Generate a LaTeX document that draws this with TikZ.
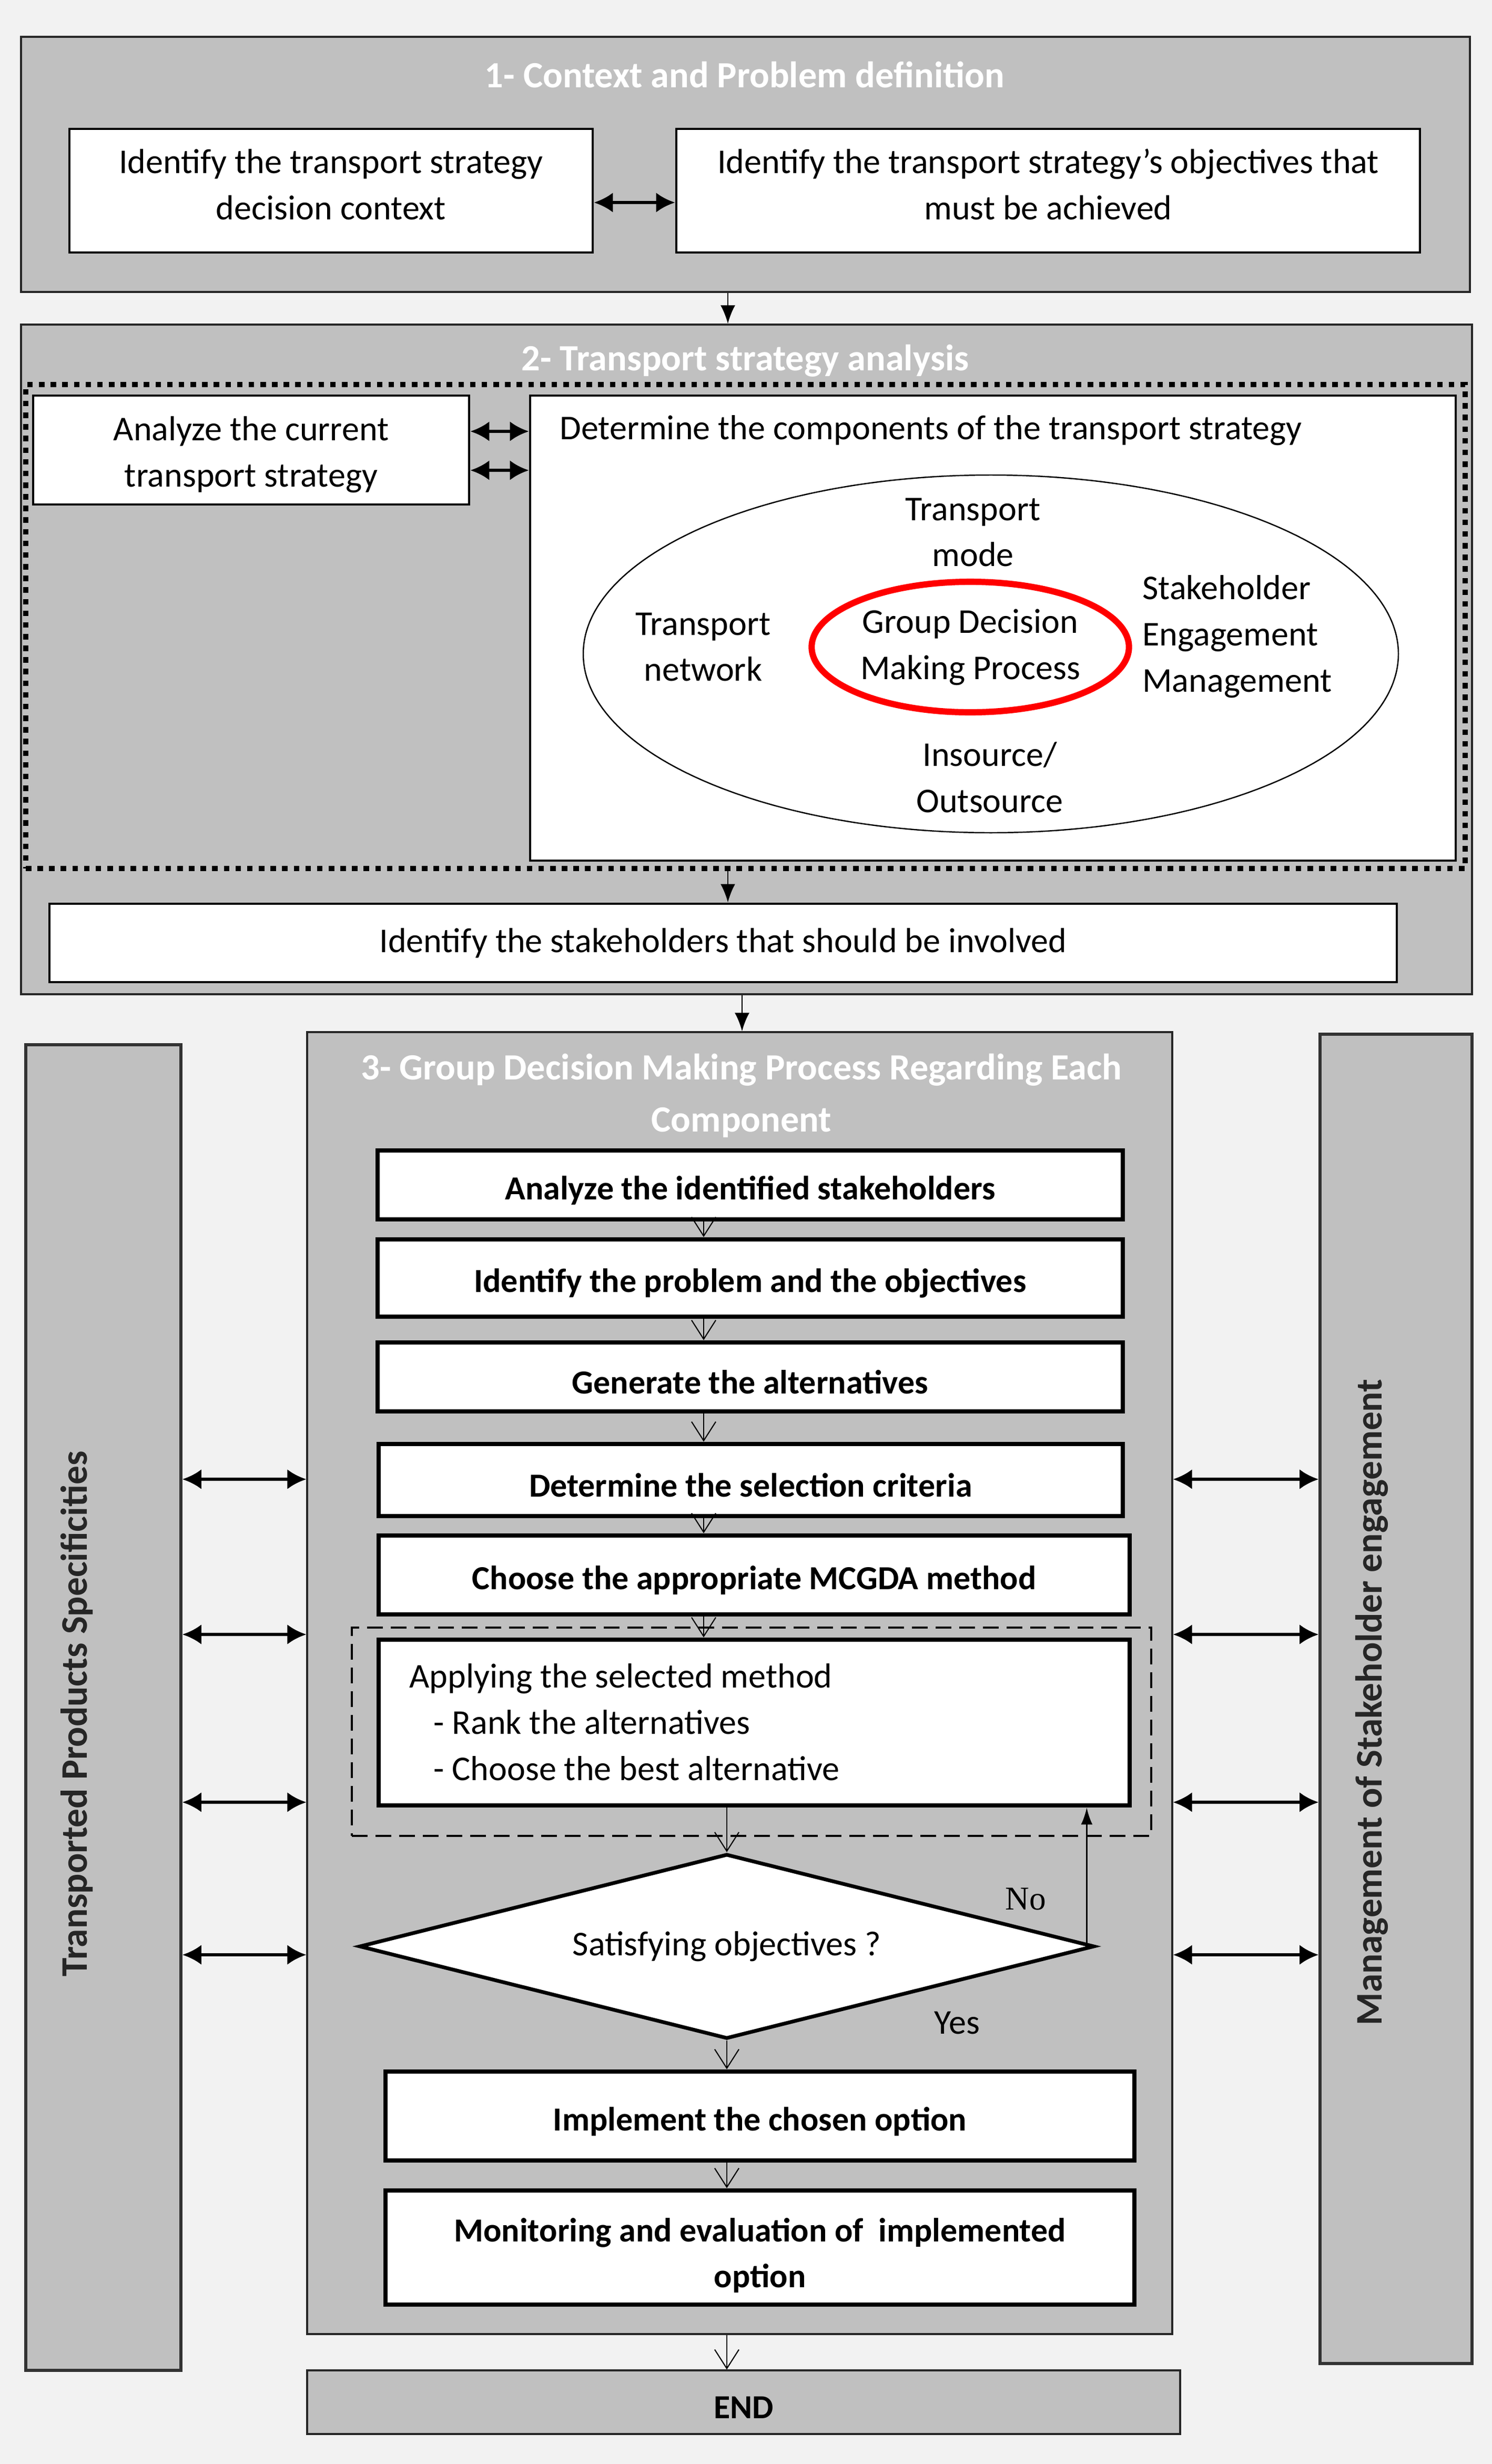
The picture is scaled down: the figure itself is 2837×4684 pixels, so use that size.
\documentclass[tikz,border=0pt]{standalone}
\usepackage{fontspec}
\setmainfont{Carlito}
\newfontfamily\timesfont{Liberation Serif}
\usetikzlibrary{arrows.meta,fit,shapes.geometric}

\definecolor{pagegray}{HTML}{F2F2F2}
\definecolor{panelgray}{HTML}{C0C0C0}

\begin{document}
\begin{tikzpicture}[x=0.01cm,y=-0.01cm,
        panel/.style={draw=black!85,line width=0.9pt,fill=panelgray,inner sep=0pt},
        sidebar/.style={draw=black!80,line width=1.6pt,fill=panelgray,inner sep=0pt},
        sidetext/.style={rotate=90,text=black!85,font=\fontsize{20.3}{24}\selectfont\bfseries},
        title/.style={text=white,align=center,font=\fontsize{20}{28}\selectfont\bfseries},
        txt/.style={align=center,font=\fontsize{18.8}{25}\selectfont},
        boldtxt/.style={align=center,yshift=-0.1cm,font=\fontsize{18.2}{25}\selectfont\bfseries},
        lightbox/.style={draw,line width=1.4pt,fill=white,inner sep=0pt},
        heavybox/.style={lightbox,line width=2.5pt},
        flow/.style={-{Straight Barb[length=3.6mm,width=4.6mm]},line width=0.6pt},
        link/.style={{Latex[length=3.6mm,width=3.8mm]}-{Latex[length=3.6mm,width=3.8mm]},line width=1.6pt},
        drop/.style={-{Latex[length=3.5mm,width=2.8mm]},line width=0.8pt}]

        % Page background
        \fill[pagegray] (0,0) rectangle (2837,4684);

        % 1- Context and problem definition
        \node[panel,fit={(40,70) (2795,555)}] (sec1) {};
        \node[title] (t1) at (1416,142) {1- Context and Problem definition};
        \node[lightbox,fit={(132,245) (1127,480)},label={[txt,yshift=0.12cm]center:{Identify the transport strategy\\decision context}}] (ctx) {};
        \node[lightbox,fit={(1286,245) (2700,480)},label={[txt,yshift=0.12cm]center:{Identify the transport strategy’s objectives that\\must be achieved}}] (obj) {};
        \draw[link] (ctx.east |- 0,385) -- (obj.west |- 0,385);

        % 2- Transport strategy analysis
        \node[panel,fit={(40,617) (2799,1890)}] (sec2) {};
        \draw[drop] (sec1.south -| 1384,0) -- (sec2.north -| 1384,0);
        \node[title] (t2) at (1417,686) {2- Transport strategy analysis};
        \node[draw,line width=2.8pt,dash pattern=on 3pt off 3.3pt,inner sep=0pt,fit={(49,731) (2786,1651)}] (dotframe) {};
        \node[lightbox,fit={(63,752) (892,959)},label={[txt,yshift=-0.09cm]center:{Analyze the current\\transport strategy}}] (cur) {};
        \node[lightbox,fit={(1008,752) (2768,1636)}] (comp) {};
        \node[txt,anchor=west] (compt) at (1052,818) {Determine the components of the transport strategy};
        \draw[link] (cur.east |- 0,820) -- (comp.west |- 0,820);
        \draw[link] (cur.east |- 0,894) -- (comp.west |- 0,894);

        % Components of the strategy
        \draw[line width=0.7pt] (1884,1243) ellipse [x radius=775, y radius=340];
        \node[txt,ellipse,draw=red,line width=3.4pt,inner sep=0pt,minimum width=6.03cm,minimum height=2.48cm] (gdm) at (1845,1230) {Group Decision\\Making Process};
        \node[txt] (mode) at (1850,1012) {Transport\\mode};
        \node[txt] (net) at (1337,1230) {Transport\\network};
        \node[txt,align=left,anchor=west] (stake) at (2160,1210) {Stakeholder\\Engagement\\Management};
        \node[txt] (src) at (1882,1478) {Insource/\\Outsource};

        \node[lightbox,fit={(94,1718) (2656,1867)},label={[txt]center:Identify the stakeholders that should be involved}] (who) {};
        \draw[drop] (dotframe.south -| 1384,0) -- (who.north -| 1384,0);

        % 3- Group decision making process
        \node[panel,fit={(584,1962) (2229,4437)}] (sec3) {};
        \draw[drop] (sec2.south -| 1411,0) -- (sec3.north -| 1411,0);
        \node[title] (t3) at (1410,2083) {3- Group Decision Making Process Regarding Each\\Component};

        % Side bars
        \node[sidebar,fit={(49,1986) (344,4506)}] (lbar) {};
        \node[sidetext] (ltxt) at (146,3258) {Transported Products Specificities};
        \node[sidebar,fit={(2510,1966) (2799,4493)}] (rbar) {};
        \node[sidetext] (rtxt) at (2608,3236) {Management of Stakeholder engagement};

        % Steps
        \node[heavybox,fit={(718,2187) (2135,2318)},label={[boldtxt]center:Analyze the identified stakeholders}] (b1) {};
        \node[heavybox,fit={(718,2356) (2135,2503)},label={[boldtxt]center:Identify the problem and the objectives}] (b2) {};
        \node[heavybox,fit={(718,2552) (2135,2683)},label={[boldtxt]center:Generate the alternatives}] (b3) {};
        \node[heavybox,fit={(720,2745) (2135,2882)},label={[boldtxt]center:Determine the selection criteria}] (b4) {};
        \node[heavybox,fit={(720,2919) (2148,3069)},label={[boldtxt]center:Choose the appropriate MCGDA method}] (b5) {};
        \node[draw,line width=0.9pt,dash pattern=on 3mm off 1.5mm,inner sep=0pt,fit={(669,3094) (2189,3490)}] (apply) {};
        \node[heavybox,fit={(720,3117) (2148,3432)}] (b6) {};
        \node[txt,align=left,anchor=west] (b6t) at (766,3274) {Applying the selected method\\\hspace{0.46cm}- Rank the alternatives\\\hspace{0.46cm}- Choose the best alternative};
        \node[txt,diamond,draw,line width=2pt,fill=white,aspect=4,inner sep=0pt,minimum width=13.97cm,minimum height=3.51cm] (dia) at (1382,3700) {Satisfying objectives ?};
        \node[font=\timesfont\fontsize{18}{20}\selectfont] (no) at (1950,3610) {No};
        \node[txt] (yes) at (1820,3845) {Yes};
        \node[heavybox,fit={(733,3938) (2157,4107)},label={[boldtxt]center:Implement the chosen option}] (b7) {};
        \node[heavybox,fit={(733,4164) (2157,4381)},label={[boldtxt,yshift=-0.05cm]center:{Monitoring and evaluation of~ implemented\\option}}] (b8) {};
        \node[panel,fit={(584,4506) (2244,4627)},label={[boldtxt]center:END}] (endb) {};

        % Flow between steps
        \coordinate (ax) at (1338,0);
        \draw[flow] (b1.south -| ax) -- (b2.north -| ax);
        \draw[flow] (b2.south -| ax) -- (b3.north -| ax);
        \draw[flow] (b3.south -| ax) -- (b4.north -| ax);
        \draw[flow] (b4.south -| ax) -- (b5.north -| ax);
        \draw[flow] (b5.south -| ax) -- (b6.north -| ax);
        \draw[flow] (b6.south -| dia.north) -- (dia.north);
        \draw[flow] (dia.south) -- (b7.north -| dia.south);
        \draw[flow] (b7.south -| dia.south) -- (b8.north -| dia.south);
        \draw[flow] (sec3.south -| dia.south) -- (endb.north -| dia.south);
        \draw[-{Latex[length=3.2mm,width=2.2mm]},line width=0.8pt] ([xshift=-0.18cm]dia.east) -- ([xshift=-0.18cm]dia.east |- b6.south);

        % Links to the side bars
        \draw[link] (lbar.east |- 0,2812) -- (sec3.west |- 0,2812);
        \draw[link] (lbar.east |- 0,3107) -- (sec3.west |- 0,3107);
        \draw[link] (lbar.east |- 0,3426) -- (sec3.west |- 0,3426);
        \draw[link] (lbar.east |- 0,3716) -- (sec3.west |- 0,3716);
        \draw[link] (sec3.east |- 0,2812) -- (rbar.west |- 0,2812);
        \draw[link] (sec3.east |- 0,3107) -- (rbar.west |- 0,3107);
        \draw[link] (sec3.east |- 0,3426) -- (rbar.west |- 0,3426);
        \draw[link] (sec3.east |- 0,3716) -- (rbar.west |- 0,3716);
\end{tikzpicture}
\end{document}
